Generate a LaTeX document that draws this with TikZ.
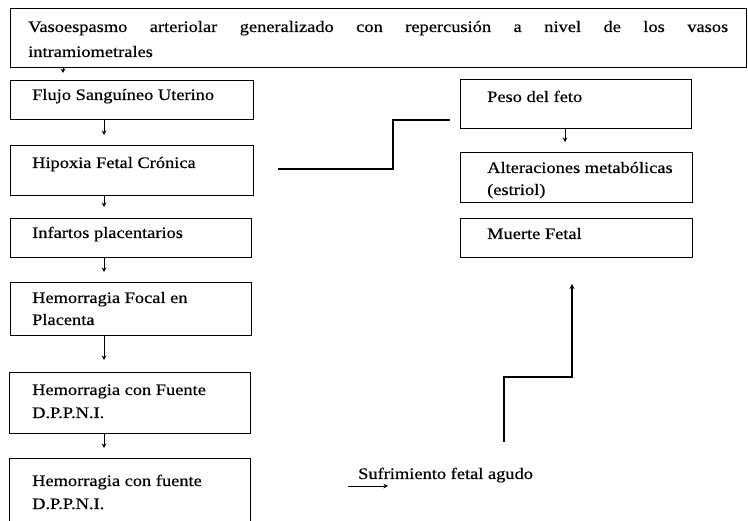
\documentclass[tikz,border=0pt]{standalone}
\usepackage{fontspec}
\setmainfont[FakeStretch=1.15,FakeBold=0.4]{Liberation Serif}
\usetikzlibrary{arrows.meta}
\begin{document}
\begin{tikzpicture}[x=1pt,y=-1pt,
  box/.style={draw, line width=0.9pt, inner sep=0pt, anchor=north west},
  txt/.style={anchor=base west, inner sep=0pt, font=\fontsize{16}{23}\selectfont},
  conn/.style={line width=0.9pt, -{Stealth[length=4.5pt,width=4.5pt]}},
  path2/.style={line width=1.4pt},
  path2a/.style={line width=1.4pt, -{Stealth[length=5pt,width=5pt]}}]
\useasboundingbox (0,0) rectangle (748,521);
\clip (0,0) rectangle (748,521);
% boxes left column
\node[box, minimum width=736, minimum height=59] (top) at (10,8) {};
\node[box, minimum width=243, minimum height=39] (flujo) at (10,80) {};
\node[box, minimum width=243, minimum height=50] (hip) at (10,145) {};
\node[box, minimum width=241, minimum height=39] (inf) at (10,218) {};
\node[box, minimum width=241, minimum height=53] (focal) at (10,282) {};
\node[box, minimum width=241, minimum height=61] (fuente) at (9,372) {};
\node[box, minimum width=241, minimum height=80] (last) at (9,458) {};
% boxes right column
\node[box, minimum width=231, minimum height=49] (peso) at (460,79) {};
\node[box, minimum width=232, minimum height=50] (alter) at (460,152) {};
\node[box, minimum width=232, minimum height=39] (muerte) at (460,218) {};
% texts
\node[txt] (top1) at (28,32) {\makebox[700pt][s]{Vasoespasmo arteriolar generalizado con repercusión a nivel de los vasos}};
\node[txt] (top2) at (28,57) {intramiometrales};
\node[txt] (flujoT) at (32,100) {Flujo Sanguíneo Uterino};
\node[txt] (hipT) at (32,168) {Hipoxia Fetal Crónica};
\node[txt] (infT) at (32,238) {Infartos placentarios};
\node[txt] (focalT1) at (32,303) {Hemorragia Focal en};
\node[txt] (focalT2) at (32,325) {Placenta};
\node[txt] (fuenteT1) at (32,395) {Hemorragia con Fuente};
\node[txt] (fuenteT2) at (32,418) {D.P.P.N.I.};
\node[txt] (lastT1) at (32,486) {Hemorragia con fuente};
\node[txt] (lastT2) at (32,509) {D.P.P.N.I.};
\node[txt] (pesoT) at (487,102) {Peso del feto};
\node[txt] (alterT1) at (487,173) {Alteraciones metabólicas};
\node[txt] (alterT2) at (487,195) {(estriol)};
\node[txt] (muerteT) at (487,239) {Muerte Fetal};
\node[txt] (suf) at (358,479) {Sufrimiento fetal agudo};
% connector columns
\coordinate (ca) at (63,0);
\coordinate (cb) at (104,0);
\coordinate (cc) at (565,0);
\draw[conn, shorten >=7pt] (top.south -| ca) -- (flujo.north -| ca);
\draw[conn, shorten >=10pt] (flujo.south -| cb) -- (hip.north -| cb);
\draw[conn, shorten >=11pt] (hip.south -| cb) -- (inf.north -| cb);
\draw[conn, shorten >=10pt] (inf.south -| cb) -- (focal.north -| cb);
\draw[conn, shorten >=12pt] (focal.south -| cb) -- (fuente.north -| cb);
\draw[conn, shorten >=10pt] (fuente.south -| cb) -- (last.north -| cb);
\draw[conn, shorten >=10pt] (peso.south -| cc) -- (alter.north -| cc);
% stepped line from Hipoxia towards Peso
\coordinate (b0) at (278,169);
\coordinate (b1) at (393,169);
\coordinate (b2) at (393,120);
\coordinate (b3) at (450,120);
\draw[path2] (b0) -- (b1) -- (b2) -- (b3);
% stepped arrow up towards Muerte Fetal
\coordinate (u0) at (504,442);
\coordinate (u1) at (504,377);
\coordinate (u2) at (572,377);
\coordinate (u3) at (572,284);
\draw[path2a] (u0) -- (u1) -- (u2) -- (u3);
% arrow to Sufrimiento fetal agudo
\coordinate (s0) at (348,486);
\coordinate (s1) at (388,486);
\draw[conn] (s0) -- (s1);
\end{tikzpicture}
\end{document}
